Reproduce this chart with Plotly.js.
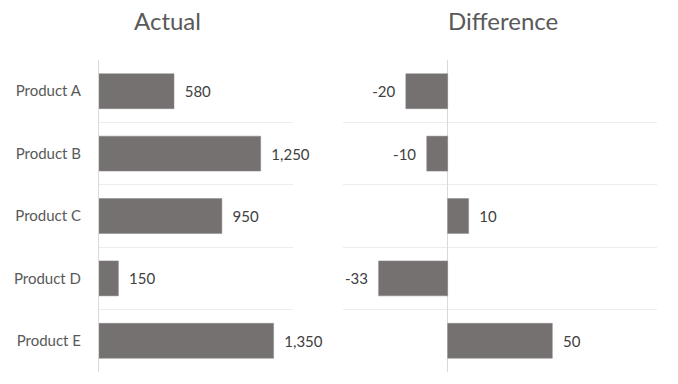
<!DOCTYPE html>
<html><head><meta charset="utf-8">
<script src="https://cdn.plot.ly/plotly-3.0.1.min.js"></script>
<style>html,body{margin:0;padding:0;background:#fff}#c{width:678px;height:384px}</style>
</head><body><div id="c"></div>
<script>
const categories = ["Product A", "Product B", "Product C", "Product D", "Product E"];
const actual = [580, 1250, 950, 150, 1350];
const difference = [-20, -10, 10, -33, 50];

const pad = "\u00a0\u00a0";
const fmt = v => v.toLocaleString('en-US');
const barColor = '#757171';
const labelFont = {family: 'Lato, "Open Sans", sans-serif', size: 15, color: '#404040'};

const traces = [
  {
    type: 'bar', orientation: 'h', x: actual, y: categories,
    xaxis: 'x', yaxis: 'y',
    marker: {color: barColor, line: {color: '#8a8686', width: 0.5}},
    width: 0.56,
    text: actual.map(v => pad + fmt(v)),
    textposition: 'outside', constraintext: 'none', cliponaxis: false,
    textfont: labelFont, hoverinfo: 'skip'
  },
  {
    type: 'bar', orientation: 'h', x: difference, y: categories,
    xaxis: 'x2', yaxis: 'y2',
    marker: {color: barColor, line: {color: '#8a8686', width: 0.5}},
    width: 0.56,
    text: difference.map(v => v < 0 ? fmt(v) + pad : pad + fmt(v)),
    textposition: 'outside', constraintext: 'none', cliponaxis: false,
    textfont: labelFont, hoverinfo: 'skip'
  }
];

const layout = {
  width: 678, height: 384,
  margin: {l: 0, r: 0, t: 60, b: 12},
  paper_bgcolor: '#fff', plot_bgcolor: '#fff',
  showlegend: false,
  font: {family: 'Lato, "Open Sans", sans-serif', color: '#595959'},
  xaxis: {domain: [99/678, 293/678], range: [0, 1500], showgrid: false, zeroline: false,
          showticklabels: false, showline: false, fixedrange: true},
  yaxis: {type: 'category', categoryorder: 'array', categoryarray: categories,
          range: [4.5, -0.5], tickson: 'boundaries', showgrid: true, gridcolor: '#ececec', gridwidth: 1,
          showline: true, linecolor: '#d9d9d9', linewidth: 1, ticks: '',
          ticklabelstandoff: 14,
          tickfont: {family: 'Lato, "Open Sans", sans-serif', size: 15, color: '#595959'}},
  xaxis2: {domain: [343/678, 657/678], range: [-50, 100], showgrid: false,
           zeroline: true, zerolinecolor: '#d9d9d9', zerolinewidth: 1,
           showticklabels: false, showline: false, anchor: 'y2'},
  yaxis2: {type: 'category', categoryorder: 'array', categoryarray: categories,
           range: [4.5, -0.5], tickson: 'boundaries', showgrid: true, gridcolor: '#ececec', gridwidth: 1,
           showticklabels: false, ticks: '', showline: false, anchor: 'x2'},
  annotations: [
    {text: 'Actual', xref: 'paper', yref: 'paper', x: 167/678, y: 1, yshift: 40,
     xanchor: 'center', yanchor: 'middle', showarrow: false,
     font: {family: 'Lato, "Open Sans", sans-serif', size: 24, color: '#595959'}},
    {text: 'Difference', xref: 'paper', yref: 'paper', x: 503/678, y: 1, yshift: 40,
     xanchor: 'center', yanchor: 'middle', showarrow: false,
     font: {family: 'Lato, "Open Sans", sans-serif', size: 24, color: '#595959'}}
  ]
};

Plotly.newPlot('c', traces, layout, {staticPlot: true, displayModeBar: false});
</script></body></html>
